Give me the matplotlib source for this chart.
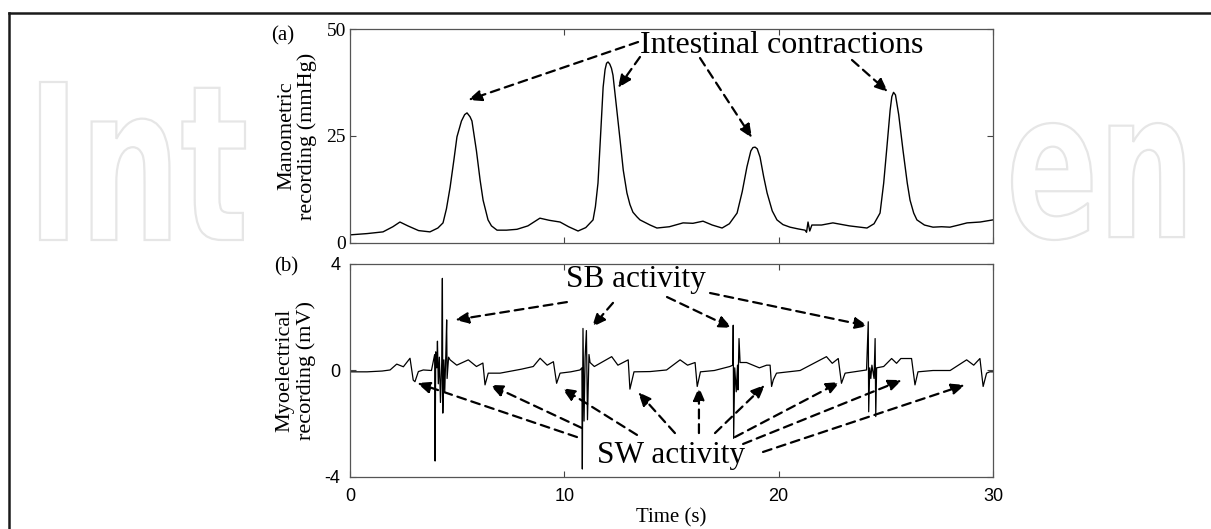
import matplotlib
matplotlib.use('Agg')
import matplotlib.pyplot as plt
import matplotlib.transforms as mtransforms
from matplotlib.textpath import TextPath
from matplotlib.font_manager import FontProperties
from matplotlib.patches import PathPatch
from matplotlib.lines import Line2D

# (a) manometric recording (time s, mmHg)
man_t = [0, 0.8, 1.54, 2.0, 2.33, 2.7, 3.2, 3.73, 4.1, 4.34, 4.5, 4.67, 4.85, 4.99, 5.2,
         5.35, 5.46, 5.6, 5.69, 5.9, 6.07, 6.21, 6.44, 6.6, 6.86, 7.3, 7.79, 8.3, 8.86, 9.3,
         9.8, 10.2, 10.64, 11.0, 11.34, 11.45, 11.57, 11.7, 11.81, 11.9, 11.97, 12.04, 12.12,
         12.2, 12.27, 12.45, 12.6, 12.75, 12.92, 13.06, 13.2, 13.39, 13.53, 14.0, 14.32, 14.9,
         15.54, 16.0, 16.47, 16.9, 17.36, 17.7, 18.06, 18.3, 18.52, 18.7, 18.8, 18.9, 19.0,
         19.13, 19.3, 19.46, 19.7, 19.92, 20.2, 20.53, 20.9, 21.23, 21.3, 21.37, 21.45, 21.55,
         22.0, 22.53, 23.3, 24.12, 24.45, 24.73, 24.9, 25.05, 25.2, 25.28, 25.36, 25.45, 25.6,
         25.8, 26.0, 26.13, 26.3, 26.45, 26.8, 27.2, 27.6, 27.99, 28.4, 28.79, 29.4, 30.0]
man_v = [1.9, 2.2, 2.6, 3.8, 4.9, 4.0, 2.9, 2.6, 3.5, 4.7, 8.0, 13.0, 19.5, 24.8, 28.5,
         30.0, 30.4, 29.5, 28.5, 21.5, 14.7, 10.0, 5.4, 4.0, 3.0, 3.0, 3.2, 4.0, 5.8, 5.3,
         4.9, 3.8, 2.8, 3.6, 5.4, 8.5, 14.0, 26.0, 36.4, 40.5, 42.0, 42.3, 41.8,
         40.8, 39.2, 31.0, 24.1, 17.0, 11.7, 9.0, 7.2, 6.1, 5.4, 4.2, 3.5, 3.8,
         4.7, 4.6, 5.1, 4.2, 3.5, 4.5, 7.0, 12.0, 17.8, 21.5, 22.3, 22.4, 22.0,
         20.1, 15.5, 11.7, 7.5, 5.4, 4.3, 3.7, 3.3, 3.0, 2.5, 4.9, 2.8, 4.2,
         4.2, 4.7, 4.0, 3.5, 4.5, 7.0, 14.0, 22.4, 31.0, 34.2, 35.2, 34.6, 30.0,
         21.7, 14.0, 10.0, 7.0, 5.4, 4.2, 3.7, 3.8, 3.7, 4.2, 4.7, 4.9, 5.4]

# (b) myoelectrical recording (time s, mV)
myo_t = [0.0, 0.8, 1.5, 1.87, 2.18, 2.49, 2.8, 2.95, 3.03, 3.19, 3.42, 3.8, 3.95, 3.97,
         4.0, 4.05, 4.08, 4.12, 4.17, 4.22, 4.28, 4.31, 4.33, 4.38, 4.42, 4.47, 4.51, 4.53,
         4.6, 4.67, 4.98, 5.52, 5.9, 6.2, 6.3, 6.45, 7.0, 8.0, 8.55, 8.87, 9.2, 9.49, 9.64,
         9.8, 10.3, 10.73, 10.82, 10.84, 10.87, 10.92, 10.97, 11.03, 11.08, 11.15, 11.2,
         11.4, 12.21, 12.5, 12.98, 13.06, 13.25, 14.0, 14.77, 15.4, 15.75, 16.1, 16.2,
         16.35, 17.0, 17.72, 17.86, 17.88, 17.9, 17.95, 18.02, 18.08, 18.1, 18.15, 18.2,
         18.5, 19.1, 19.44, 19.6, 19.67, 19.75, 19.9, 21.0, 22.23, 22.5, 22.78, 22.93, 23.1,
         24.1, 24.18, 24.2, 24.25, 24.3, 24.35, 24.45, 24.5, 24.53, 24.57, 24.9, 25.27,
         25.5, 25.7, 26.2, 26.36, 26.5, 27.2, 28.0, 28.77, 29.1, 29.39, 29.54, 29.7,
         29.85, 30.0]
myo_v = [-0.05, -0.05, -0.02, 0.02, 0.24, 0.14, 0.46, -0.36, -0.42, -0.04, 0.02, 0.0, 0.6, -3.4,
         0.7, 0.1, 1.1, -0.5, 0.5, -1.2, 0.3, 3.46, -1.6, 0.4, -0.8, 0.6, 1.9, -0.3,
         0.5, 0.4, 0.2, 0.4, 0.15, 0.28, -0.54, -0.1, -0.1, 0.05, 0.15, 0.46, 0.2, 0.33, -0.48,
         -0.1, -0.05, 0.02, 0.1, -3.7, 1.58, -1.9, 0.5, 1.5, -1.85, 0.6, 0.3,
         0.15, 0.52, 0.2, 0.4, -0.7, -0.05, -0.04, 0.02, 0.4, 0.2, 0.3, -0.6,
         -0.05, 0.0, 0.15, 0.2, 1.7, -2.55, 0.1, -0.8, 0.2, -0.73, 1.2, 0.3,
         0.3, 0.1, 0.2, 0.2, -0.6, -0.35, -0.1, 0.0, 0.52, 0.27, 0.45, -0.48, -0.1,
         0.02, 1.83, -1.55, 0.1, -0.3, 0.2, -0.3, 1.2, -1.73, 0.1, 0.15, 0.45,
         0.27, 0.45, 0.45, -0.54, -0.05, 0.0, 0.0, 0.4, 0.2, 0.45, -0.6, -0.1,
         -0.05, -0.05]

# annotation arrows: (tail x, tail y, head x, head y) in data units
ic_arrows = [(13.44, 46.96, 5.51, 33.41), (13.53, 43.46, 12.50, 36.21),
             (16.33, 43.22, 18.76, 24.53), (23.42, 42.76, 25.10, 35.28)]
sb_arrows = [(10.12, 2.57, 4.90, 1.90), (12.27, 2.54, 11.29, 1.63),
             (14.79, 2.76, 17.82, 1.60), (16.80, 2.91, 24.17, 1.67)]
sw_arrows = [(10.59, -2.50, 3.13, -0.47), (10.82, -2.16, 6.53, -0.54),
             (13.39, -2.42, 9.89, -0.66), (15.16, -2.35, 13.44, -0.81),
             (16.28, -2.35, 16.28, -0.62), (17.03, -2.35, 19.36, -0.54),
             (17.96, -2.50, 22.86, -0.43), (18.34, -2.76, 25.75, -0.36),
             (19.27, -3.06, 28.69, -0.54)]

W, H = 1211, 529
serif = 'Liberation Serif'
sans = 'Liberation Sans'

fig = plt.figure(figsize=(W / 100, H / 100), dpi=100)
fig.patch.set_facecolor('white')

# watermark letters in the background
def watermark(s, x0, x1, y0, y1):
    tp = TextPath((0, 0), s, size=100, prop=FontProperties(family='DejaVu Sans', weight='bold'))
    ext = tp.get_extents()
    tr = (mtransforms.Affine2D().translate(-ext.x0, -ext.y0)
          .scale((x1 - x0) / ext.width, (y1 - y0) / ext.height)
          .translate(x0, H - y1))
    fig.add_artist(PathPatch(tr.transform_path(tp), fc='none', ec='#e6e6e6', lw=1.6,
                             transform=mtransforms.IdentityTransform(), zorder=-5))

watermark('Int', 40, 245, 82, 240)
watermark('en', 1012, 1184, 123, 240)

# page frame (top and left edge)
fig.add_artist(Line2D([9 / W, 1.0], [1 - 12.5 / H, 1 - 12.5 / H], transform=fig.transFigure,
                      color='#1a1a1a', lw=1.8))
fig.add_artist(Line2D([9 / W, 9 / W], [0, 1 - 12.5 / H], transform=fig.transFigure,
                      color='#1a1a1a', lw=1.8))

ax1 = fig.add_axes([350 / W, 1 - 243 / H, 643 / W, 214 / H])
ax2 = fig.add_axes([350 / W, 1 - 477 / H, 643 / W, 213 / H])

ax1.plot(man_t, man_v, color='k', lw=1.0)
ax2.plot(myo_t, myo_v, color='k', lw=0.9)

for ax in (ax1, ax2):
    ax.set_xlim(0, 30)
    ax.set_xticks([0, 10, 20, 30])
    ax.tick_params(direction='in', top=True, right=True, length=4, width=0.8, color='#444444')
    for sp in ax.spines.values():
        sp.set_color('#555555')
        sp.set_linewidth(0.9)

ax1.set_ylim(0, 50)
ax1.set_yticks([0, 25, 50])
ax1.set_xticklabels([])
ax1.tick_params(axis='y', pad=3, labelsize=14)
for lab in ax1.get_yticklabels():
    lab.set_fontfamily(serif)

ax2.set_ylim(-4, 4)
ax2.set_yticks([-4, 0, 4])
ax2.set_yticklabels(['-4', '0', '4'])
ax2.tick_params(axis='y', pad=7, labelsize=13)
ax2.tick_params(axis='x', pad=8, labelsize=13)
for lab in ax2.get_yticklabels() + ax2.get_xticklabels():
    lab.set_fontfamily(sans)

ax1.set_ylabel('Manometric\nrecording (mmHg)', fontfamily=serif, fontsize=16, linespacing=1.1)
ax1.yaxis.set_label_coords(-0.051, 0.5)
ax2.set_ylabel('Myoelectrical\nrecording (mV)', fontfamily=serif, fontsize=16, linespacing=1.1)
ax2.yaxis.set_label_coords(-0.053, 0.5)
ax2.set_xlabel('Time (s)', fontfamily=serif, fontsize=15, labelpad=2)

fig.text(283 / W, 1 - 36 / H, '(a)', fontfamily=serif, fontsize=15, ha='center', va='center')
fig.text(286 / W, 1 - 267 / H, '(b)', fontfamily=serif, fontsize=15, ha='center', va='center')

# annotations
ax1.text(20.13, 44.4, 'Intestinal contractions', fontfamily=serif, fontsize=23,
         ha='center', va='baseline')
ax2.text(13.32, 3.14, 'SB activity', fontfamily=serif, fontsize=22.5, ha='center', va='baseline')
ax2.text(14.98, -3.47, 'SW activity', fontfamily=serif, fontsize=22.5, ha='center', va='baseline')

arrow_style = dict(arrowstyle='-|>,head_length=0.4,head_width=0.17', linestyle=(0, (4, 2.6)),
                   lw=1.6, color='k', shrinkA=0, shrinkB=0, mutation_scale=20)
for ax, arrows in ((ax1, ic_arrows), (ax2, sb_arrows + sw_arrows)):
    for x0, y0, x1, y1 in arrows:
        ax.annotate('', xy=(x1, y1), xytext=(x0, y0), arrowprops=arrow_style)

fig.savefig('out.png', dpi=100)
